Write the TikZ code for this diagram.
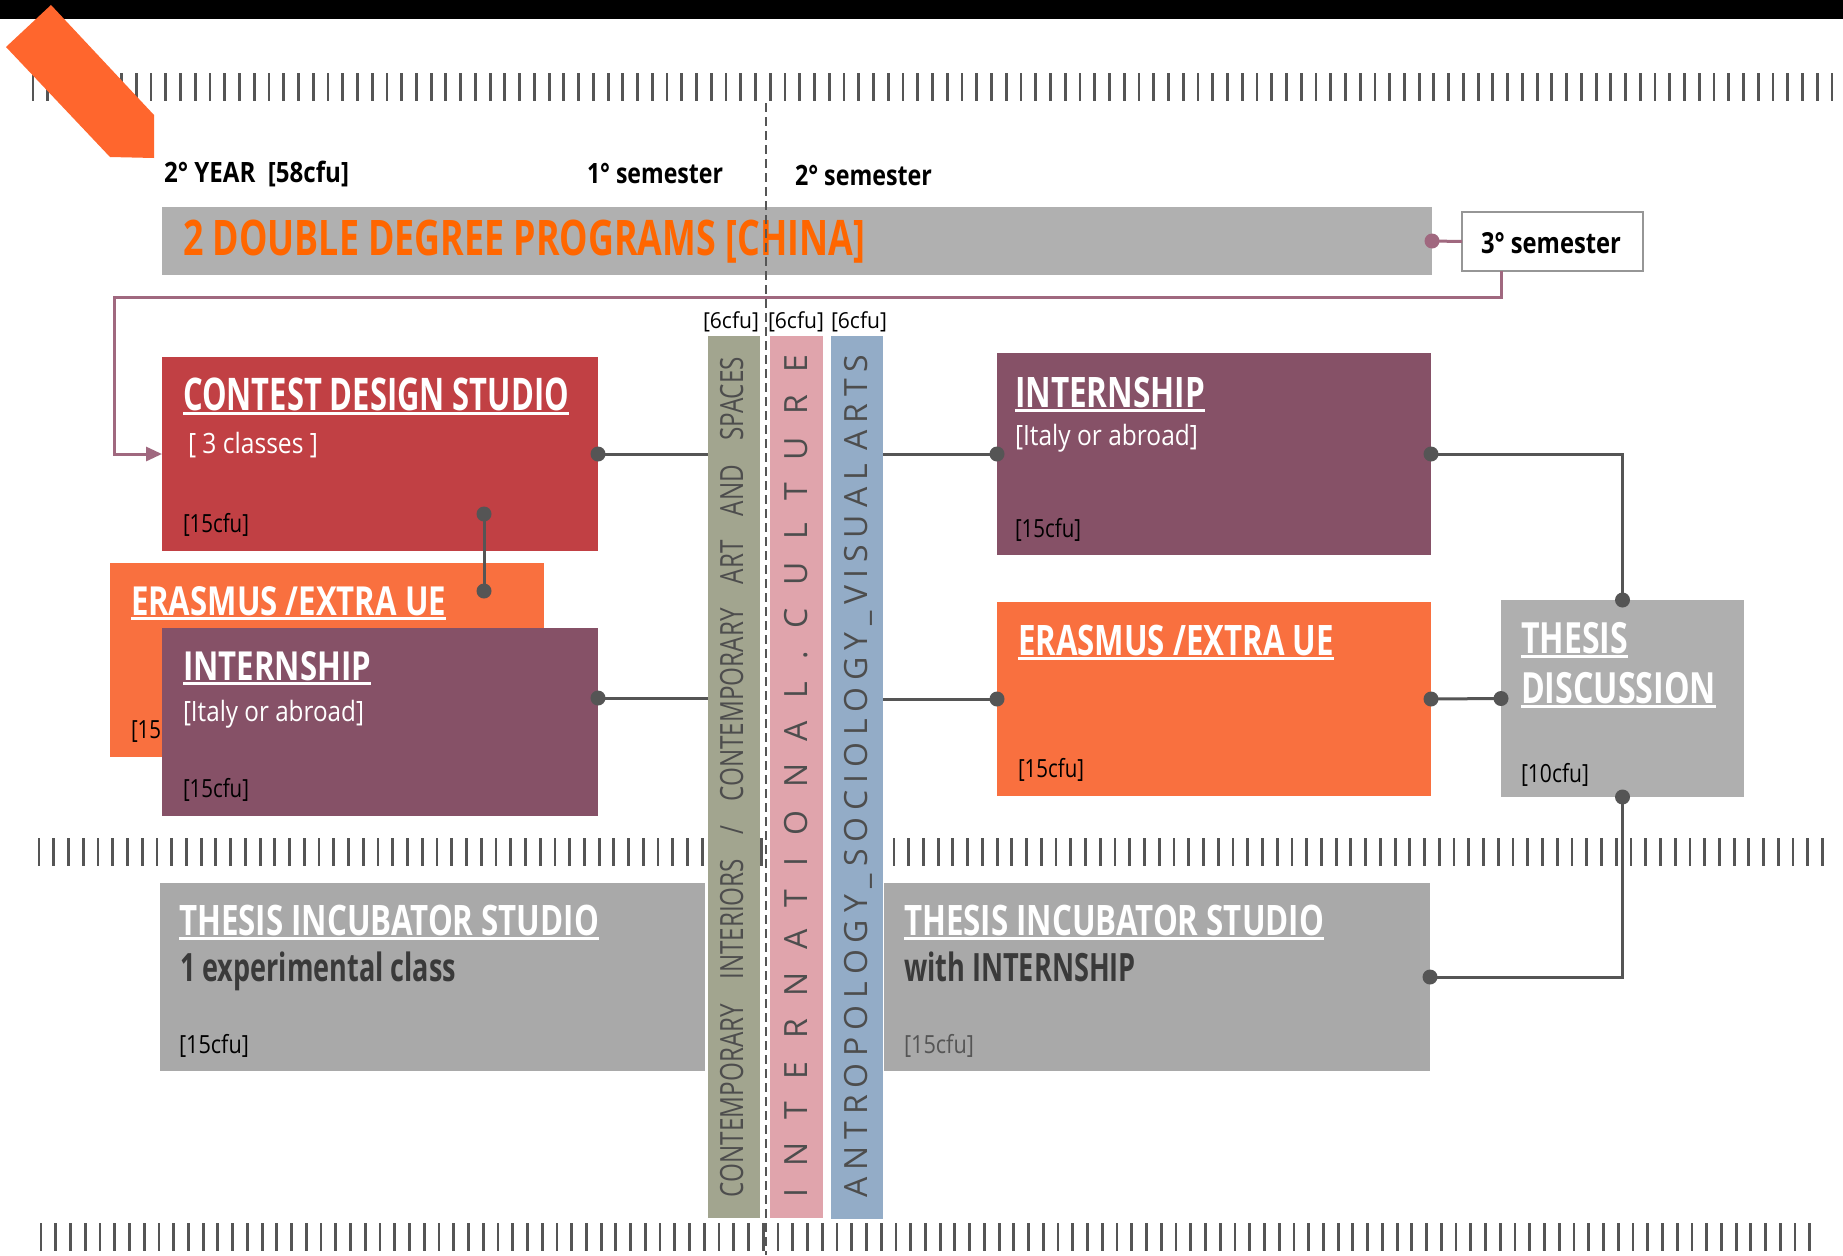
\documentclass[tikz,border=0pt]{standalone}
\usepackage{fontspec}
\setmainfont{Open Sans}
\usepackage{graphicx}
\usetikzlibrary{arrows.meta,calc}
\definecolor{contestred}{RGB}{193,64,68}
\definecolor{erorange}{RGB}{249,112,63}
\definecolor{intpurple}{RGB}{134,81,103}
\definecolor{bannergray}{RGB}{176,176,176}
\definecolor{thesisgray}{RGB}{175,175,175}
\definecolor{incgray}{RGB}{169,169,169}
\definecolor{colgreen}{RGB}{162,165,143}
\definecolor{colpink}{RGB}{224,164,172}
\definecolor{colblue}{RGB}{147,172,199}
\definecolor{arroworange}{RGB}{255,102,45}
\definecolor{textorange}{RGB}{255,102,0}
\definecolor{mauve}{RGB}{160,104,127}
\definecolor{linegray}{RGB}{85,85,85}
\definecolor{coltext}{RGB}{77,77,77}
\definecolor{darktext}{RGB}{58,58,58}
\definecolor{boxgray}{RGB}{150,150,150}
\newcommand{\fsz}[1]{\fontsize{#1}{#1}\selectfont}
\newcommand{\fitw}[2]{\resizebox{#1}{\height}{#2}}
\newsavebox{\ulbx}
\newcommand{\ulw}[1]{\sbox{\ulbx}{#1}\rlap{\rule[-5pt]{\wd\ulbx}{3pt}}\usebox{\ulbx}}
\begin{document}
\begin{tikzpicture}[x=1pt,y=-1pt,
  box/.style={anchor=north west, inner sep=0pt, outer sep=0pt},
  lbl/.style={anchor=base west, inner sep=0pt, outer sep=0pt},
  hd/.style={lbl, text=white, font=\fsz{42}\bfseries},
  sub/.style={lbl, text=white, font=\fsz{28}},
  cfu/.style={lbl, text=black, font=\fsz{25}},
  dk/.style={lbl, text=darktext, font=\fsz{39}\bfseries},
  top/.style={lbl, text=black, font=\fsz{28}\bfseries},
  six/.style={anchor=base, inner sep=0pt, text=black, font=\fsz{22}},
  coltxt/.style={rotate=90, anchor=base, inner sep=0pt, text=coltext, font=\fsz{32}},
  conn/.style={draw=linegray, line width=3pt},
  mconn/.style={draw=mauve, line width=3pt},
  jdot/.style={fill=linegray},
  tick/.style={draw=linegray, line width=2.8pt},
]
\useasboundingbox (0,0) rectangle (1843,1255);
\fill[white] (0,0) rectangle (1843,1255);
\fill[black] (0,0) rectangle (1843,19);

% tick rows
\foreach \i in {0,...,122} \draw[tick] ({33+14.746*\i},73) -- ({33+14.746*\i},101);
\foreach \i in {0,...,121} \draw[tick] ({39+14.74*\i},838) -- ({39+14.74*\i},866);
\foreach \i in {0,...,120} \draw[tick] ({41+14.74*\i},1223) -- ({41+14.74*\i},1251);

% header texts
\node[top] (year) at (164,182) {\fitw{185pt}{2° YEAR\ \ [58cfu]}};
\node[top] (sem1) at (587,183) {\fitw{136pt}{1° semester}};
\node[top] (sem2) at (795,185) {\fitw{137pt}{2° semester}};

% banner
\node[box, fill=bannergray, minimum width=1270pt, minimum height=68pt] (banner) at (162,207) {};
\node[lbl, text=textorange, font=\fsz{49}\bfseries] (bannert) at (183,255) {\fitw{682pt}{2 DOUBLE DEGREE PROGRAMS [CHINA]}};
\node[box, fill=white, draw=boxgray, line width=2pt, minimum width=181pt, minimum height=59pt] (sem3) at (1462,212) {};
\node[lbl, text=black, font=\fsz{29}\bfseries] (sem3t) at (1481,253) {\fitw{140pt}{3° semester}};

% dashed semester divider
\draw[linegray, line width=2pt, dash pattern=on 9pt off 5pt] (766,103) -- (766,1255);

% columns
\node[box, fill=colgreen, minimum width=52pt, minimum height=882pt] (colG) at (708,336) {};
\node[box, fill=colpink, minimum width=53pt, minimum height=882pt] (colP) at (770,336) {};
\node[box, fill=colblue, minimum width=52pt, minimum height=883pt] (colB) at (831,336) {};
\node[six] (cfuG) at (731,328) {\fitw{56pt}{[6cfu]}};
\node[six] (cfuP) at (796,328) {\fitw{56pt}{[6cfu]}};
\node[six] (cfuB) at (859,328) {\fitw{56pt}{[6cfu]}};
\node[coltxt] (colGt) at (743,777) {\fitw{840pt}{CONTEMPORARY\hspace{1em}INTERIORS\hspace{1em}/\hspace{1em}CONTEMPORARY\hspace{1em}ART\hspace{1em}AND\hspace{1em}SPACES}};
\node[coltxt] (colPt) at (807,776) {\makebox[843pt][s]{I\hfill N\hfill T\hfill E\hfill R\hfill N\hfill A\hfill T\hfill I\hfill O\hfill N\hfill A\hfill L\hfill .\hfill C\hfill U\hfill L\hfill T\hfill U\hfill R\hfill E}};
\node[coltxt] (colBt) at (867,776) {\makebox[843pt][s]{A\hfill N\hfill T\hfill R\hfill O\hfill P\hfill O\hfill L\hfill O\hfill G\hfill Y\hfill \_\hfill S\hfill O\hfill C\hfill I\hfill O\hfill L\hfill O\hfill G\hfill Y\hfill \_\hfill V\hfill I\hfill S\hfill U\hfill A\hfill L\hfill\hfill A\hfill R\hfill T\hfill S}};

% left side boxes
\node[box, fill=contestred, minimum width=436pt, minimum height=194pt] (contest) at (162,357) {};
\node[hd, font=\fsz{45}\bfseries] (contestt) at (183,410) {\fitw{386pt}{\ulw{CONTEST DESIGN STUDIO}}};
\node[sub] (contests) at (188,453) {\fitw{130pt}{[ 3 classes ]}};
\node[cfu] (contestc) at (183,532) {\fitw{66pt}{[15cfu]}};

\node[box, fill=erorange, minimum width=434pt, minimum height=194pt] (erasL) at (110,563) {};
\node[hd, font=\fsz{40}\bfseries] (erasLt) at (131,615) {\fitw{315pt}{\ulw{ERASMUS /EXTRA UE}}};
\node[cfu] (erasLc) at (131,738) {\fitw{66pt}{[15cfu]}};

\node[box, fill=intpurple, minimum width=436pt, minimum height=188pt] (intL) at (162,628) {};
\node[hd, font=\fsz{40}\bfseries] (intLt) at (183,680) {\fitw{188pt}{\ulw{INTERNSHIP}}};
\node[sub] (intLs) at (183,721) {\fitw{181pt}{[Italy or abroad]}};
\node[cfu] (intLc) at (183,797) {\fitw{66pt}{[15cfu]}};

% right side boxes
\node[box, fill=intpurple, minimum width=434pt, minimum height=202pt] (intR) at (997,353) {};
\node[hd] (intRt) at (1015,407) {\fitw{190pt}{\ulw{INTERNSHIP}}};
\node[sub] (intRs) at (1015,445) {\fitw{183pt}{[Italy or abroad]}};
\node[cfu] (intRc) at (1015,537) {\fitw{66pt}{[15cfu]}};

\node[box, fill=erorange, minimum width=434pt, minimum height=194pt] (erasR) at (997,602) {};
\node[hd] (erasRt) at (1018,655) {\fitw{316pt}{\ulw{ERASMUS /EXTRA UE}}};
\node[cfu] (erasRc) at (1018,777) {\fitw{66pt}{[15cfu]}};

\node[box, fill=thesisgray, minimum width=243pt, minimum height=197pt] (thesis) at (1501,600) {};
\node[hd, font=\fsz{43}\bfseries] (thesist1) at (1521,653) {\fitw{107pt}{\ulw{THESIS}}};
\node[hd, font=\fsz{43}\bfseries] (thesist2) at (1521,703) {\fitw{195pt}{\ulw{DISCUSSION}}};
\node[cfu] (thesisc) at (1521,782) {\fitw{68pt}{[10cfu]}};

% incubator boxes
\node[box, fill=incgray, minimum width=545pt, minimum height=188pt] (incL) at (160,883) {};
\node[hd] (incLt) at (179,935) {\fitw{420pt}{\ulw{THESIS INCUBATOR STUDIO}}};
\node[dk] (incLs) at (180,981) {\fitw{276pt}{1 experimental class}};
\node[cfu] (incLc) at (179,1053) {\fitw{70pt}{[15cfu]}};

\node[box, fill=incgray, minimum width=546pt, minimum height=188pt] (incR) at (884,883) {};
\node[hd] (incRt) at (904,935) {\fitw{420pt}{\ulw{THESIS INCUBATOR STUDIO}}};
\node[dk] (incRs) at (904,981) {\fitw{232pt}{with INTERNSHIP}};
\node[cfu, text=linegray] (incRc) at (904,1053) {\fitw{70pt}{[15cfu]}};

% connectors
\coordinate (mroute) at (114,297);
\draw[mconn] (banner.east) -- (sem3.west);
\fill[mauve] (banner.east) circle (7.5pt);
\draw[mconn, -{Triangle[length=16pt,width=14pt]}] ($(sem3.south west)+(39,0)$) |- (mroute) |- (contest.west);

\coordinate (cA) at ($(contest.south west)+(322,-37)$);
\coordinate (cB) at ($(erasL.north west)+(374,28)$);
\coordinate (iL) at ($(intL.north east)+(0,70)$);

\draw[conn] (contest.east) -- (contest.east -| colG.west);
\draw[conn] (cA) -- (cB);
\draw[conn] (iL) -- (iL -| colG.west);
\draw[conn] (intR.west -| colB.east) -- (intR.west);
\draw[conn] (erasR.west -| colB.east) -- (erasR.west);
\draw[conn] (intR.east) -| (thesis.north);
\draw[conn] (erasR.east) -- (thesis.west);
\draw[conn] (thesis.south) |- (incR.east);

\foreach \p in {contest.east, cA, cB, iL, intR.west, erasR.west, intR.east, thesis.north, erasR.east, thesis.west, thesis.south, incR.east}
  \fill[jdot] (\p) circle (7.5pt);

% orange marker
\fill[arroworange] (51,5) -- (6,47) -- (110,157) -- (154,158) -- (154,115) -- cycle;
\end{tikzpicture}
\end{document}
